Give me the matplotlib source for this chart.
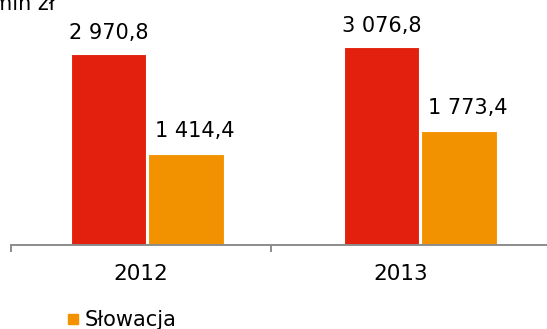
import numpy as np
import matplotlib.pyplot as plt
from matplotlib.lines import Line2D

# values in mln zl
years = ['2012', '2013']
polska = [2970.8, 3076.8]
slowacja = [1414.4, 1773.4]

red = '#E31F0D'
orange = '#F39200'
grey = '#8C8C8C'


def fmt(v):
    """polish style number: space for thousands, comma for decimals"""
    s = '{:,.1f}'.format(v)
    return s.replace(',', ' ').replace('.', ',')


fig = plt.figure(figsize=(5.47, 3.29), dpi=100)
ax = fig.add_axes([11 / 547, 84 / 329, 1 - 11 / 547, 245 / 329])

x = np.arange(len(years))
group_pos = x * 1.05 + 0.024
w = 0.29

b1 = ax.bar(group_pos - 0.149, polska, w, color=red, edgecolor='white', linewidth=0.8)
b2 = ax.bar(group_pos + 0.149, slowacja, w, color=orange, edgecolor='white', linewidth=0.8)

for bar, v in zip(b1, polska):
    ax.annotate(fmt(v), (bar.get_x() + bar.get_width() / 2, v), xytext=(0, 11),
                textcoords='offset points', ha='center', va='baseline', fontsize=15)
for bar, v in zip(b2, slowacja):
    ax.annotate(fmt(v), (bar.get_x() + bar.get_width() / 2, v), xytext=(6.5, 12),
                textcoords='offset points', ha='center', va='baseline', fontsize=15)

ax.set_xlim(-0.5, 1.5615)
ax.set_ylim(0, 3810)

ax.set_xticks(x)
ax.set_xticklabels(years, fontsize=15.5)
ax.tick_params(axis='x', which='major', length=0, pad=14)
ax.set_xticks([-0.5, 0.5], minor=True)
ax.tick_params(axis='x', which='minor', length=5, width=1.4, color=grey)
ax.set_yticks([])

for s in ['top', 'right', 'left']:
    ax.spines[s].set_visible(False)
ax.spines['bottom'].set_color(grey)
ax.spines['bottom'].set_linewidth(1.4)

fig.text(55 / 547, 1 - 10 / 329, 'mln zł', ha='right', va='baseline', fontsize=15)

h = Line2D([], [], marker='s', color=orange, linestyle='none', markersize=7)
fig.legend([h], ['Słowacja'], loc='upper left', bbox_to_anchor=(67 / 547, 19 / 329),
           frameon=False, fontsize=15, handlelength=0.6, handletextpad=0.25,
           borderpad=0, borderaxespad=0)

fig.savefig('out.png', dpi=100)
